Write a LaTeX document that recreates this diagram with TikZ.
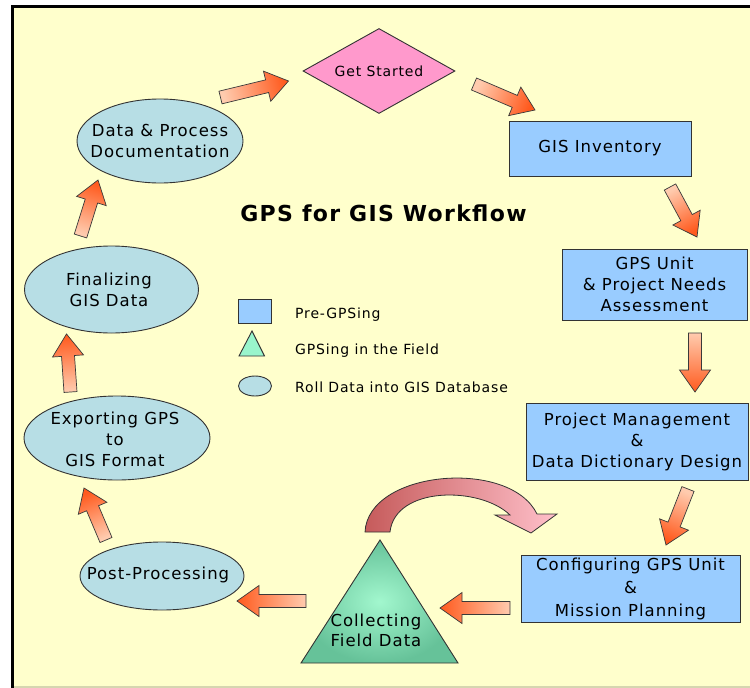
\documentclass[tikz,border=0pt]{standalone}
\usepackage{fontspec}
\setmainfont{DejaVu Sans}[LetterSpace=6]
\usetikzlibrary{shapes.geometric,calc}

\definecolor{paper}{HTML}{FFFFCC}
\definecolor{boxblue}{HTML}{99CCFF}
\definecolor{ellblue}{HTML}{B7DEE5}
\definecolor{diapink}{HTML}{FF99CC}
\definecolor{edgegray}{HTML}{333333}
\definecolor{arrlight}{HTML}{FFCBAE}
\definecolor{arrdark}{HTML}{FF5A1E}
\definecolor{arredge}{HTML}{3A3A3A}
\definecolor{trilight}{HTML}{A2F7CE}
\definecolor{tridark}{HTML}{66C299}
\definecolor{legtri}{HTML}{99F5CC}
\definecolor{curvedark}{HTML}{C65B5B}
\definecolor{curvemid}{HTML}{E8888E}
\definecolor{curvelight}{HTML}{FFC0CA}
\definecolor{floorline}{HTML}{D6D6B0}

% block arrow from one named coordinate to another
\newcommand\flowarrow[2]{%
  \path let \p1=($(#2)-(#1)$) in \pgfextra{%
    \pgfmathparse{atan2(\y1,\x1)}\xdef\fwang{\pgfmathresult}%
    \pgfmathparse{veclen(\x1,\y1)}\xdef\fwlen{\pgfmathresult}};
  \begin{scope}[shift={(#1)}, x=1pt, y=1pt, rotate=\fwang]
    \shadedraw[blockarrow, shading angle=\fwang-90]
      (0,6.5) -- ({\fwlen-22},6.5) -- ({\fwlen-22},15.5) -- (\fwlen,0)
      -- ({\fwlen-22},-15.5) -- ({\fwlen-22},-6.5) -- (0,-6.5) -- cycle;
  \end{scope}}

\begin{document}
\begin{tikzpicture}[x=1pt, y=-1pt,
  shapeedge/.style={draw=edgegray, line width=0.9pt},
  boxnode/.style={shapeedge, fill=boxblue, rectangle, inner sep=0pt,
    align=center, font=\fontsize{16.5}{21}\selectfont},
  ellnode/.style={shapeedge, fill=ellblue, ellipse, inner sep=0pt},
  diamondnode/.style={shapeedge, fill=diapink, diamond, inner sep=0pt},
  label/.style={inner sep=0pt, align=center, font=\fontsize{16.5}{21}\selectfont},
  smalllabel/.style={inner sep=0pt, font=\fontsize{14}{17}\selectfont},
  legendtext/.style={inner sep=0pt, anchor=west, font=\fontsize{14}{17}\selectfont},
  blockarrow/.style={draw=arredge, line width=0.7pt, line join=miter,
    top color=arrdark, bottom color=arrlight}]

\useasboundingbox (0,0) rectangle (750,688);
\fill[white] (0,0) rectangle (750,688);
\fill[paper] (12,6.5) rectangle (750,688);
\draw[floorline, line width=2pt] (13.5,687) -- (750,687);
\draw[black, line width=3pt] (12,688) -- (12,6.5) -- (750,6.5);

% title
\node[inner sep=0pt, font=\fontsize{22}{26}\selectfont\bfseries] (title) at (383.5,213) {GPS for GIS Workflow};

% pre-GPSing steps
\node[diamondnode, minimum width=152pt, minimum height=85pt] (start) at (379,71) {};
\node[smalllabel] at (start) {Get Started};
\node[boxnode, minimum width=182pt, minimum height=55pt] (inv) at (600,148.5) {GIS Inventory};
\node[boxnode, minimum width=185pt, minimum height=71pt] (needs) at (654.5,284.5)
  {GPS Unit\\\& Project Needs\\Assessment};
\node[boxnode, minimum width=222pt, minimum height=77pt] (pm) at (637,441.5)
  {Project Management\\\&\\Data Dictionary Design};
\node[boxnode, minimum width=219pt, minimum height=67pt, font=\fontsize{16.5}{23}\selectfont] (cfg) at (630.5,588.5)
  {Configuring GPS Unit\\\&\\Mission Planning};

% field work
\coordinate (triA) at (380,540);
\coordinate (triR) at (458,663);
\coordinate (triL) at (301,663);
\shadedraw[shapeedge, inner color=trilight, outer color=tridark] (triA) -- (triR) -- (triL) -- cycle;
\node[label, font=\fontsize{16.5}{20}\selectfont] (field) at (376,630) {Collecting\\Field Data};

% roll data into GIS database
\node[ellnode, minimum width=164pt, minimum height=68pt] (post) at (162,576) {};
\node[label] at (158,575) {Post-Processing};
\node[ellnode, minimum width=186pt, minimum height=84pt] (exp) at (117,438) {};
\node[label] at (115,439) {Exporting GPS\\to\\GIS Format};
\node[ellnode, minimum width=174pt, minimum height=87pt] (fin) at (111.5,289.5) {};
\node[label] at (109,290) {Finalizing\\GIS Data};
\node[ellnode, minimum width=166pt, minimum height=84pt] (doc) at (160,141) {};
\node[label] at (160,141) {Data \& Process\\Documentation};

% curved arrow over the field triangle
\shadedraw[draw=edgegray, line width=0.8pt, left color=curvedark, middle color=curvemid, right color=curvelight]
  (365,532) .. controls (368,470) and (510,458) .. (537,514) -- (557,514) -- (531,533)
  -- (495,515) -- (510,515) .. controls (480,486) and (395,486) .. (390,532) -- cycle;

% connector end points
\coordinate (a1s) at (220.5,97.5);  \coordinate (a1e) at (288.5,81);
\coordinate (a2s) at (474,84);      \coordinate (a2e) at (535,110);
\coordinate (a3s) at (670,187);     \coordinate (a3e) at (697,237);
\coordinate (a4s) at (695,333);     \coordinate (a4e) at (695,392);
\coordinate (a5s) at (688,489);     \coordinate (a5e) at (666,545);
\coordinate (a6s) at (510,608);     \coordinate (a6e) at (440,608);
\coordinate (a7s) at (306,601);     \coordinate (a7e) at (237,601);
\coordinate (a8s) at (106,540);     \coordinate (a8e) at (84,488);
\coordinate (a9s) at (70.5,392);    \coordinate (a9e) at (66.5,334);
\coordinate (a10s) at (80.5,236);   \coordinate (a10e) at (98,180);

\flowarrow{a1s}{a1e}
\flowarrow{a2s}{a2e}
\flowarrow{a3s}{a3e}
\flowarrow{a4s}{a4e}
\flowarrow{a5s}{a5e}
\flowarrow{a6s}{a6e}
\flowarrow{a7s}{a7e}
\flowarrow{a8s}{a8e}
\flowarrow{a9s}{a9e}
\flowarrow{a10s}{a10e}

% legend
\node[shapeedge, fill=boxblue, rectangle, inner sep=0pt, minimum width=33pt, minimum height=24pt] (legbox) at (254.5,311) {};
\coordinate (legA) at (252,331);
\coordinate (legR) at (264.5,356);
\coordinate (legL) at (239,356);
\filldraw[draw=edgegray, line width=0.9pt, fill=legtri] (legA) -- (legR) -- (legL) -- cycle;
\node[ellnode, minimum width=33pt, minimum height=20pt] (legell) at (255,386) {};
\node[legendtext] (legt1) at (295,315) {Pre-GPSing};
\node[legendtext] (legt2) at (295,351) {GPSing in the Field};
\node[legendtext] (legt3) at (295,387) {Roll Data into GIS Database};
\end{tikzpicture}
\end{document}
